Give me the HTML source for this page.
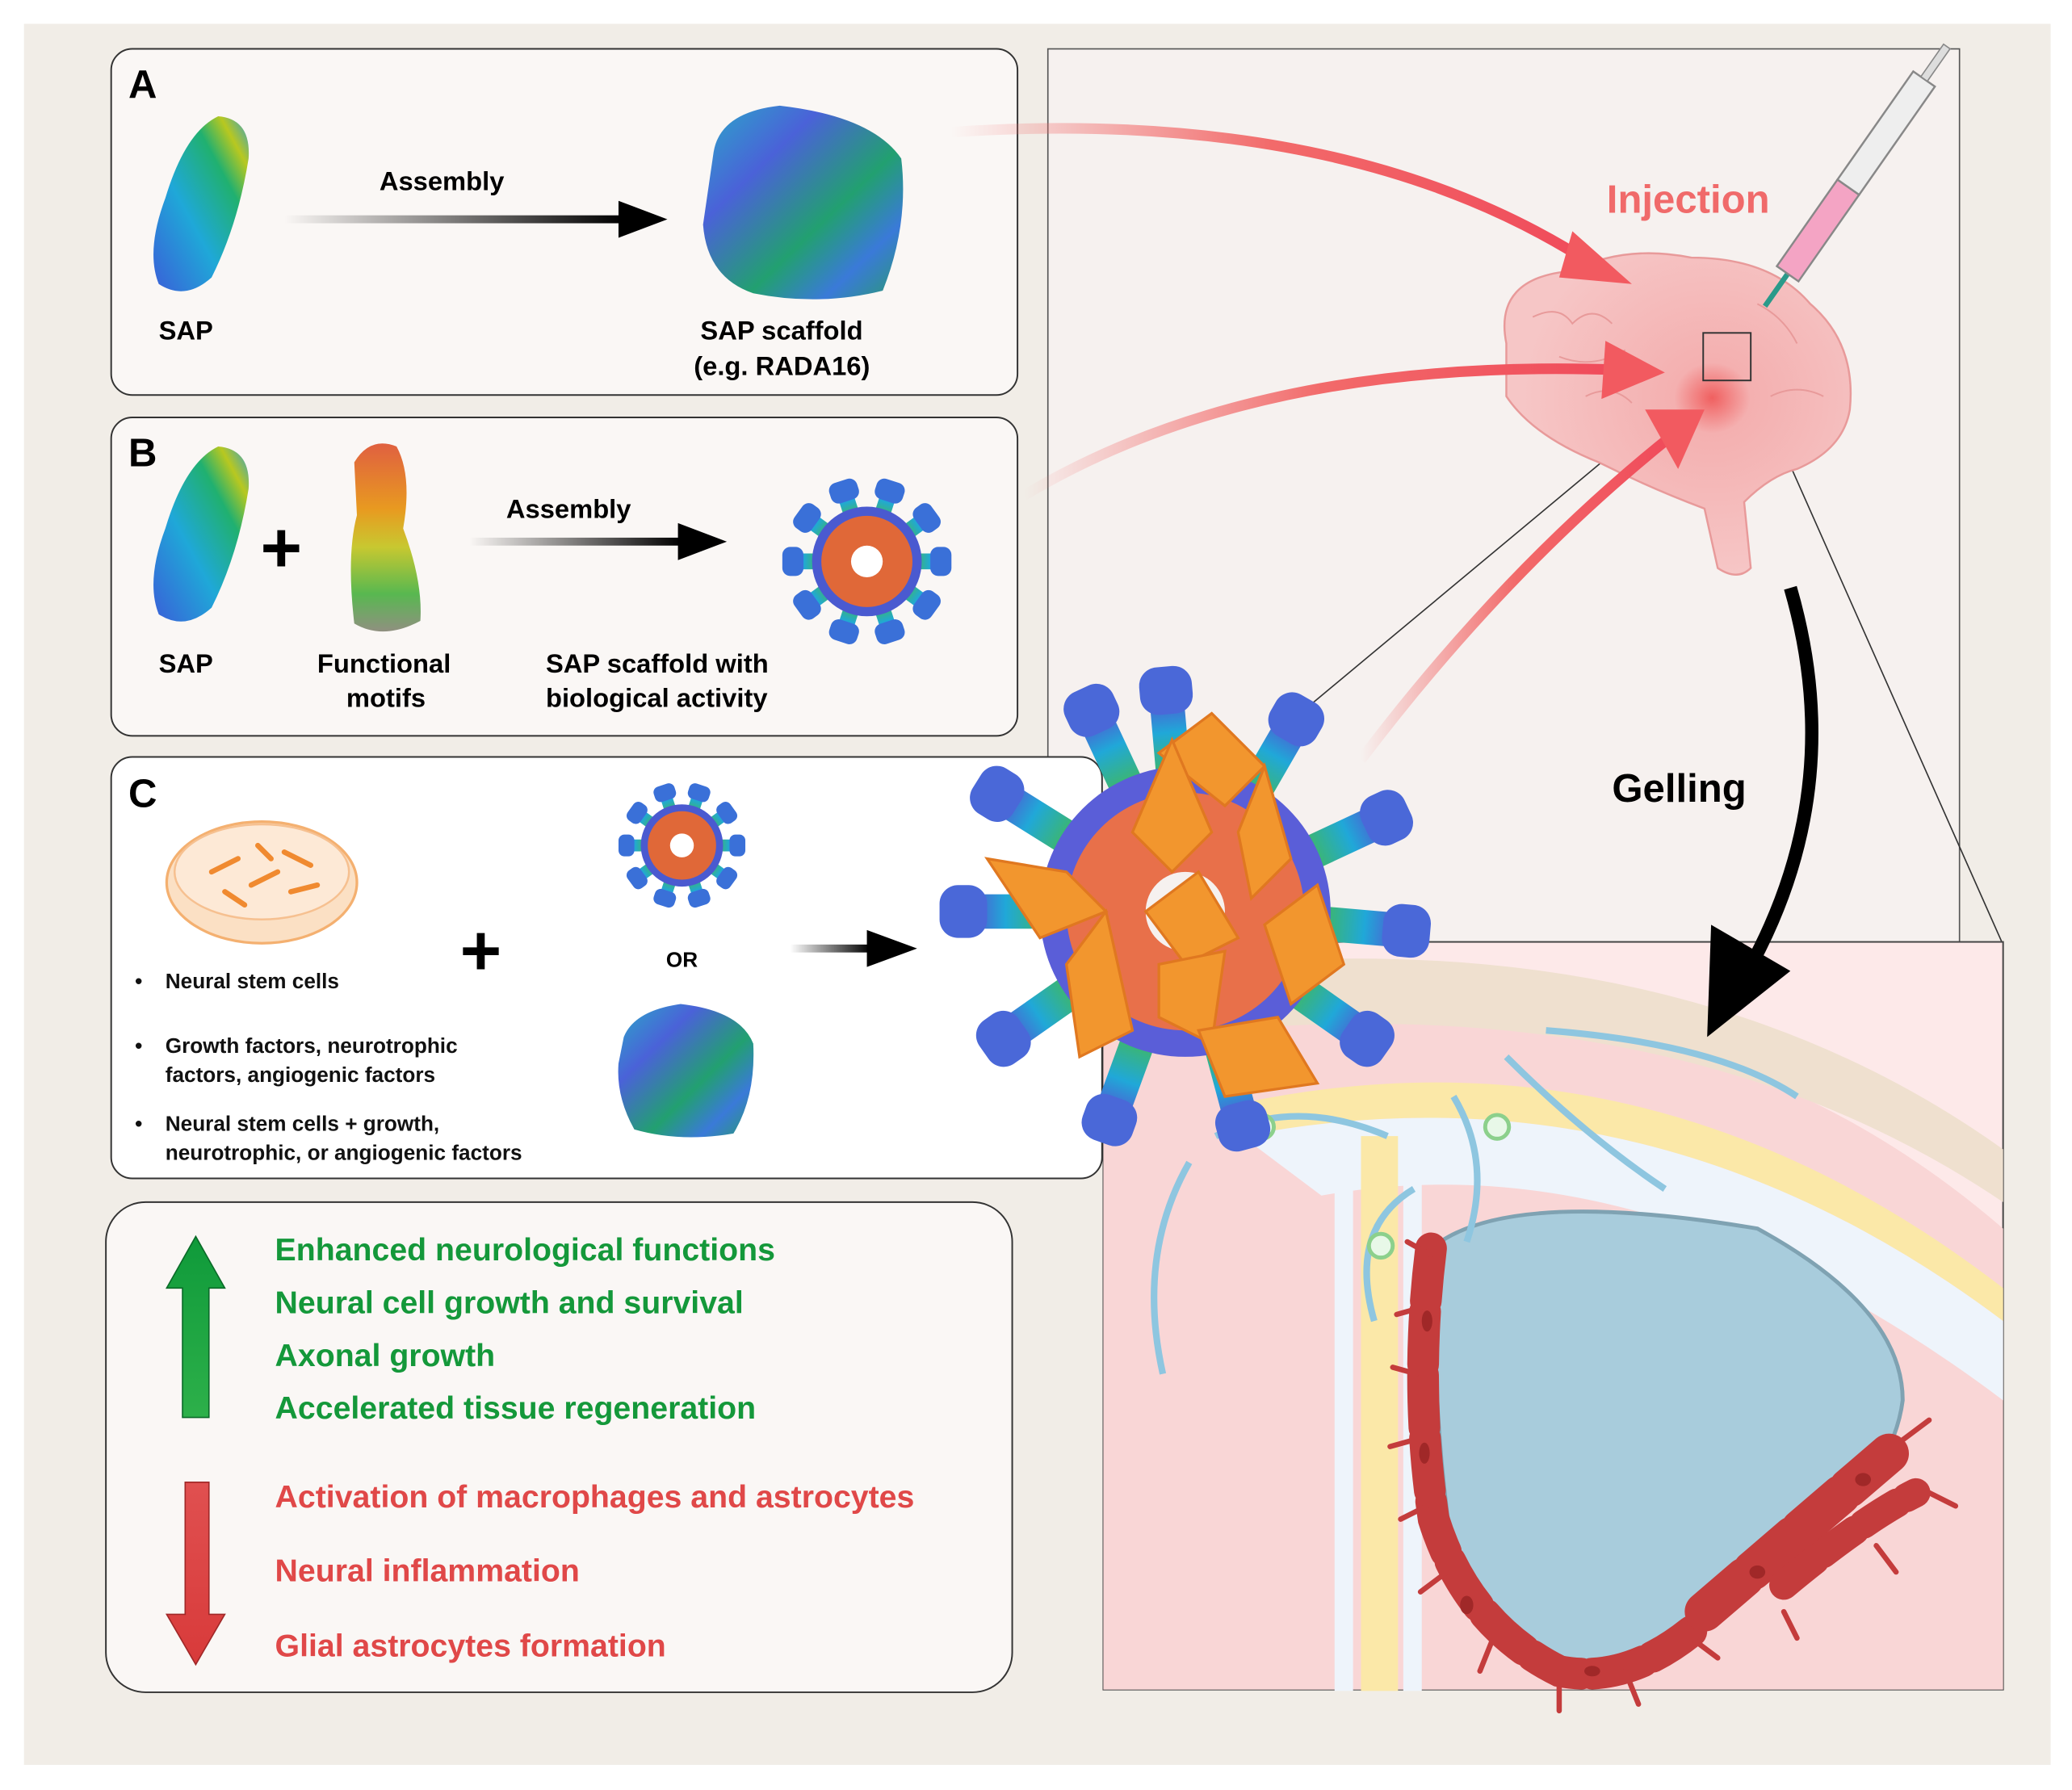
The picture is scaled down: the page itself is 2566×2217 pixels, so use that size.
<!DOCTYPE html>
<html><head><meta charset="utf-8"><style>
html,body{margin:0;padding:0;background:#fff}
svg{display:block}
text{font-family:"Liberation Sans",Arial,sans-serif;font-weight:bold}
</style></head><body>
<svg width="2566" height="2217" viewBox="0 0 1568 1355" xmlns="http://www.w3.org/2000/svg">
<defs>
<linearGradient id="mol" x1="0" y1="1" x2="1" y2="0"><stop offset="0" stop-color="#3a5fd8"/><stop offset=".4" stop-color="#1fa8d8"/><stop offset=".7" stop-color="#20b070"/><stop offset=".85" stop-color="#b8c820"/><stop offset="1" stop-color="#2fa0d0"/></linearGradient>
<linearGradient id="cube" x1="0" y1="0" x2="1" y2="1"><stop offset="0" stop-color="#2aa8c8"/><stop offset=".3" stop-color="#4a62d8"/><stop offset=".6" stop-color="#22a070"/><stop offset=".8" stop-color="#3a7ad8"/><stop offset="1" stop-color="#2a9a70"/></linearGradient>
<linearGradient id="motif" x1="0" y1="0" x2="0" y2="1"><stop offset="0" stop-color="#e06040"/><stop offset=".35" stop-color="#e89a20"/><stop offset=".55" stop-color="#c8c830"/><stop offset=".8" stop-color="#58b850"/><stop offset="1" stop-color="#909080"/></linearGradient>
<linearGradient id="spoke" x1="0" y1="0" x2="1" y2="0"><stop offset="0" stop-color="#e06030"/><stop offset=".35" stop-color="#e8c020"/><stop offset=".6" stop-color="#40b860"/><stop offset=".8" stop-color="#20a8d8"/><stop offset="1" stop-color="#6040d0"/></linearGradient>
<linearGradient id="blk" x1="0" y1="0" x2="1" y2="0"><stop offset="0" stop-color="#000" stop-opacity="0"/><stop offset="1" stop-color="#000"/></linearGradient>
<linearGradient id="redA" x1="0" y1="0" x2="1" y2="0"><stop offset="0" stop-color="#f26a6a" stop-opacity="0"/><stop offset=".5" stop-color="#f26a6a"/><stop offset="1" stop-color="#f04a5a"/></linearGradient>
<linearGradient id="greenU" x1="0" y1="0" x2="0" y2="1"><stop offset="0" stop-color="#0f9a3a"/><stop offset="1" stop-color="#2db04a"/></linearGradient>
<linearGradient id="redD" x1="0" y1="0" x2="0" y2="1"><stop offset="0" stop-color="#e05050"/><stop offset="1" stop-color="#d83a3a"/></linearGradient>
<radialGradient id="brain" cx=".6" cy=".45" r=".55"><stop offset="0" stop-color="#f06060"/><stop offset=".2" stop-color="#f4b0b0"/><stop offset="1" stop-color="#f6c6c6"/></radialGradient>
<g id="sp"><rect x="0" y="-6" width="60" height="12" rx="6" fill="url(#spoke)"/><rect x="48" y="-11" width="16" height="22" rx="6" fill="#3a70d8"/></g>
<g id="sp2"><rect x="0" y="-13" width="170" height="26" rx="12" fill="url(#spoke)"/><rect x="150" y="-20" width="36" height="40" rx="14" fill="#4a68d8"/></g>
</defs>
<rect width="1568" height="1355" fill="#fff"/>
<rect x="18" y="18" width="1534" height="1318" fill="#f1ede7"/>

<!-- right panel -->
<rect x="793" y="37" width="690" height="678" fill="#f6f1ef" stroke="#555" stroke-width="1"/>
<line x1="1290" y1="285" x2="960" y2="560" stroke="#333" stroke-width="1"/>
<line x1="1325" y1="285" x2="1515" y2="713" stroke="#333" stroke-width="1"/>
<!-- bottom right zoom box -->
<rect x="835" y="713" width="681" height="566" fill="#fde9e9" stroke="#444" stroke-width="1.2"/>
<g>
<path d="M835,790 Q1250,700 1516,930 L1516,1279 L835,1279Z" fill="#f9d6d6"/>
<path d="M835,740 Q1250,680 1516,870 L1516,910 Q1250,730 835,790Z" fill="#efe0cf"/>
<path d="M940,835 Q1250,770 1516,975 L1516,1000 Q1250,800 940,860Z" fill="#fbe8a8"/>
<path d="M940,860 Q1250,800 1516,1000 L1516,1060 Q1250,860 1000,905 Z" fill="#eef4fb"/>
<rect x="1030" y="860" width="28" height="420" fill="#fbe8a8"/>
<rect x="1010" y="880" width="14" height="400" fill="#eef4fb"/>
<rect x="1062" y="880" width="14" height="400" fill="#eef4fb"/>
<path d="M1090,940 Q1150,900 1330,930 Q1440,990 1440,1060 Q1430,1140 1300,1220 Q1240,1260 1180,1265 Q1120,1260 1100,1180 Q1080,1050 1090,940Z" fill="#a8ccdc" stroke="#7fa2b2" stroke-width="3"/>
<path d="M1070,900 Q1020,930 1040,1000 M900,880 Q860,950 880,1040 M1140,800 Q1200,860 1260,900 M1170,780 Q1300,790 1360,830 M920,860 Q980,830 1050,860 M1100,830 Q1130,880 1110,940" fill="none" stroke="#8ec6e0" stroke-width="5"/>
<circle cx="955" cy="853" r="9" fill="#e8f8e8" stroke="#8cd08c" stroke-width="3"/>
<circle cx="1133" cy="853" r="9" fill="#e8f8e8" stroke="#8cd08c" stroke-width="3"/>
<circle cx="1045" cy="943" r="9" fill="#e8f8e8" stroke="#8cd08c" stroke-width="3"/>
<!-- astrocytes -->
<g fill="none" stroke="#c43c3c" stroke-linecap="round">
<path d="M1083,945 Q1070,1050 1085,1150 Q1110,1230 1180,1265 Q1230,1275 1280,1235" stroke-width="24" stroke-dasharray="40 8"/>
<path d="M1290,1220 Q1360,1160 1430,1100" stroke-width="30" stroke-dasharray="40 8"/>
<path d="M1350,1200 Q1410,1150 1450,1130" stroke-width="22" stroke-dasharray="30 8"/>
</g>
<g stroke="#c43c3c" stroke-width="4" stroke-linecap="round">
<path d="M1083,950 l-18,-10 M1075,990 l-18,5 M1072,1040 l-18,-5 M1070,1090 l-18,5 M1080,1140 l-20,10 M1095,1190 l-20,15 M1130,1240 l-10,25 M1180,1270 l0,25 M1230,1265 l10,25 M1280,1240 l20,15 M1440,1090 l20,-15 M1460,1130 l20,10 M1420,1170 l15,20 M1350,1220 l10,20"/>
</g>
<g fill="#a02828"><ellipse cx="1080" cy="1000" rx="4" ry="8"/><ellipse cx="1078" cy="1100" rx="4" ry="8"/><ellipse cx="1110" cy="1215" rx="5" ry="7"/><ellipse cx="1205" cy="1265" rx="6" ry="4"/><ellipse cx="1330" cy="1190" rx="6" ry="5"/><ellipse cx="1410" cy="1120" rx="6" ry="5"/></g>
</g>

<!-- Panel A -->
<rect x="84" y="37" width="686" height="262" rx="16" fill="#faf7f5" stroke="#333" stroke-width="1.2"/>
<text x="97" y="74" font-size="30">A</text>
<path d="M120,215 Q110,190 125,150 Q140,100 165,88 Q190,90 188,120 Q180,170 160,210 Q140,228 120,215Z" fill="url(#mol)"/>
<text x="120" y="257" font-size="20">SAP</text>
<rect x="215" y="163" width="255" height="6" fill="url(#blk)"/>
<path d="M468,152 L505,166 L468,180Z" fill="#000"/>
<text x="287" y="144" font-size="20">Assembly</text>
<path d="M540,115 Q545,85 590,80 Q660,88 682,120 Q688,170 668,220 Q620,232 570,222 Q535,210 532,170Z" fill="url(#cube)"/>
<text x="530" y="257" font-size="20">SAP scaffold</text>
<text x="525" y="284" font-size="20">(e.g. RADA16)</text>

<!-- Panel B -->
<rect x="84" y="316" width="686" height="241" rx="16" fill="#faf7f5" stroke="#333" stroke-width="1.2"/>
<text x="97" y="353" font-size="30">B</text>
<path d="M120,465 Q110,440 125,400 Q140,350 165,338 Q190,340 188,370 Q180,420 160,460 Q140,478 120,465Z" fill="url(#mol)"/>
<text x="120" y="509" font-size="20">SAP</text>
<text x="197" y="433" font-size="54" font-weight="normal">+</text>
<path d="M268,350 Q280,330 300,338 Q312,360 305,400 Q320,440 318,470 Q290,485 268,472 Q262,420 270,390Z" fill="url(#motif)"/>
<text x="240" y="509" font-size="20">Functional</text>
<text x="262" y="535" font-size="20">motifs</text>
<rect x="355" y="407" width="160" height="6" fill="url(#blk)"/>
<path d="M513,396 L550,410 L513,424Z" fill="#000"/>
<text x="383" y="392" font-size="20">Assembly</text>
<g transform="translate(656,425)">
<use href="#sp" transform="rotate(0)"/><use href="#sp" transform="rotate(36)"/><use href="#sp" transform="rotate(72)"/><use href="#sp" transform="rotate(108)"/><use href="#sp" transform="rotate(144)"/><use href="#sp" transform="rotate(180)"/><use href="#sp" transform="rotate(216)"/><use href="#sp" transform="rotate(252)"/><use href="#sp" transform="rotate(288)"/><use href="#sp" transform="rotate(324)"/>
<circle r="38" fill="#e06838" stroke="#4a5ad0" stroke-width="7"/><circle r="12" fill="#fff"/>
</g>
<text x="413" y="509" font-size="20">SAP scaffold with</text>
<text x="413" y="535" font-size="20">biological activity</text>

<!-- Panel C -->
<rect x="84" y="573" width="750" height="319" rx="16" fill="#fff" stroke="#333" stroke-width="1.2"/>
<text x="97" y="611" font-size="30">C</text>
<ellipse cx="198" cy="668" rx="72" ry="46" fill="#fbe0c4" stroke="#f4b070" stroke-width="2"/>
<ellipse cx="198" cy="660" rx="66" ry="36" fill="#fde9d6" stroke="#f6c090" stroke-width="1.5"/>
<g stroke="#f08a30" stroke-width="4" stroke-linecap="round"><line x1="160" y1="660" x2="180" y2="650"/><line x1="190" y1="670" x2="210" y2="660"/><line x1="215" y1="645" x2="235" y2="655"/><line x1="170" y1="675" x2="185" y2="685"/><line x1="220" y1="675" x2="240" y2="670"/><line x1="195" y1="640" x2="205" y2="650"/></g>
<g font-size="16" fill="#111">
<text x="102" y="748">•</text><text x="125" y="748">Neural stem cells</text>
<text x="102" y="797">•</text><text x="125" y="797">Growth factors, neurotrophic</text>
<text x="125" y="819">factors, angiogenic factors</text>
<text x="102" y="856">•</text><text x="125" y="856">Neural stem cells + growth,</text>
<text x="125" y="878">neurotrophic, or angiogenic factors</text>
</g>
<text x="348" y="738" font-size="54" font-weight="normal">+</text>
<g transform="translate(516,640) scale(0.75)">
<use href="#sp" transform="rotate(0)"/><use href="#sp" transform="rotate(36)"/><use href="#sp" transform="rotate(72)"/><use href="#sp" transform="rotate(108)"/><use href="#sp" transform="rotate(144)"/><use href="#sp" transform="rotate(180)"/><use href="#sp" transform="rotate(216)"/><use href="#sp" transform="rotate(252)"/><use href="#sp" transform="rotate(288)"/><use href="#sp" transform="rotate(324)"/>
<circle r="38" fill="#e06838" stroke="#4a5ad0" stroke-width="7"/><circle r="12" fill="#fff"/>
</g>
<text x="504" y="732" font-size="16">OR</text>
<path d="M472,785 Q480,765 515,760 Q560,765 570,790 Q572,830 555,858 Q515,865 480,855 Q466,830 468,805Z" fill="url(#cube)"/>
<rect x="598" y="715" width="60" height="6" fill="url(#blk)"/>
<path d="M656,704 L694,718 L656,732Z" fill="#000"/>

<!-- big composite scaffold -->
<g transform="translate(897,690)">
<use href="#sp2" transform="rotate(-95)"/><use href="#sp2" transform="rotate(-60)"/><use href="#sp2" transform="rotate(-25)"/><use href="#sp2" transform="rotate(5)"/><use href="#sp2" transform="rotate(35)"/><use href="#sp2" transform="rotate(75)"/><use href="#sp2" transform="rotate(110)"/><use href="#sp2" transform="rotate(145)"/><use href="#sp2" transform="rotate(180)"/><use href="#sp2" transform="rotate(212)"/><use href="#sp2" transform="rotate(245)"/>
<circle r="110" fill="#5a5ed8"/>
<circle r="90" fill="#e8704a"/>
<circle r="30" fill="#f6f1ef"/>
<g fill="#f2962e" stroke="#e07820" stroke-width="2">
<path d="M-20,-120 L20,-150 L60,-110 L30,-80Z"/>
<path d="M-40,-60 L-10,-130 L20,-60 L-10,-30Z"/>
<path d="M40,-60 L60,-110 L80,-40 L50,-10Z"/>
<path d="M-150,-40 L-90,-30 L-60,0 L-110,20Z"/>
<path d="M-30,0 L10,-30 L40,20 L0,40Z"/>
<path d="M60,10 L100,-20 L120,40 L80,70Z"/>
<path d="M-90,40 L-60,0 L-40,90 L-80,110Z"/>
<path d="M-20,40 L30,30 L20,100 L-20,80Z"/>
<path d="M10,90 L70,80 L100,130 L30,140Z"/>
</g>
</g>

<!-- bottom panel -->
<rect x="80" y="910" width="686" height="371" rx="30" fill="#faf7f5" stroke="#333" stroke-width="1.2"/>
<path d="M148,936 L170,975 L158,975 L158,1073 L138,1073 L138,975 L126,975Z" fill="url(#greenU)" stroke="#0a6a28" stroke-width="1"/>
<path d="M140,1122 L158,1122 L158,1222 L170,1222 L148,1260 L126,1222 L140,1222Z" fill="url(#redD)" stroke="#a02828" stroke-width="1"/>
<g font-size="24" fill="#14983a">
<text x="208" y="954">Enhanced neurological functions</text>
<text x="208" y="994">Neural cell growth and survival</text>
<text x="208" y="1034">Axonal growth</text>
<text x="208" y="1074">Accelerated tissue regeneration</text>
</g>
<g font-size="24" fill="#e04848">
<text x="208" y="1141">Activation of macrophages and astrocytes</text>
<text x="208" y="1197">Neural inflammation</text>
<text x="208" y="1254">Glial astrocytes formation</text>
</g>

<!-- brain -->
<path d="M1140,260 Q1130,210 1190,205 Q1230,185 1280,195 Q1340,195 1370,230 Q1405,260 1400,310 Q1395,340 1360,355 Q1340,360 1320,380 L1325,430 Q1315,440 1300,430 L1290,385 Q1250,370 1210,350 Q1160,330 1140,300Z" fill="url(#brain)" stroke="#e89a9a" stroke-width="1.5"/>
<g fill="none" stroke="#e89a9a" stroke-width="1.2"><path d="M1160,240 q20,-10 30,5 q15,-15 30,0 M1200,300 q20,-10 35,5 M1330,230 q20,10 30,30 M1340,300 q20,-10 40,0 M1180,270 q25,10 50,-5"/></g>
<rect x="1289" y="252" width="36" height="36" fill="none" stroke="#333" stroke-width="1.2"/>
<!-- syringe -->
<g transform="translate(1330,240) rotate(-55)">
<rect x="10" y="-2" width="30" height="4" fill="#2a9a8a"/>
<rect x="40" y="-10" width="80" height="20" fill="#f4a4c4" stroke="#888" stroke-width="1.5"/>
<rect x="120" y="-10" width="100" height="20" fill="#eee" stroke="#888" stroke-width="1.5"/>
<rect x="220" y="-3" width="30" height="6" fill="#ddd" stroke="#888"/>
</g>
<text x="1216" y="161" font-size="30" fill="#f06a6a">Injection</text>
<text x="1220" y="607" font-size="30">Gelling</text>
<path d="M1355,445 Q1400,600 1320,740" fill="none" stroke="#000" stroke-width="10"/>
<path d="M1295,700 L1355,735 L1292,785Z" fill="#000"/>

<!-- red arrows -->
<g fill="none" stroke="url(#redA)" stroke-width="8">
<path d="M720,100 Q1020,80 1205,200"/>
<path d="M775,375 Q950,270 1225,280"/>
<path d="M1030,575 Q1140,430 1265,330"/>
</g>
<g fill="#f25a60">
<path d="M1190,175 L1235,215 L1180,210Z"/>
<path d="M1215,258 L1260,282 L1212,302Z"/>
<path d="M1245,310 L1290,310 L1270,355Z"/>
</g>
</svg>
</body></html>
